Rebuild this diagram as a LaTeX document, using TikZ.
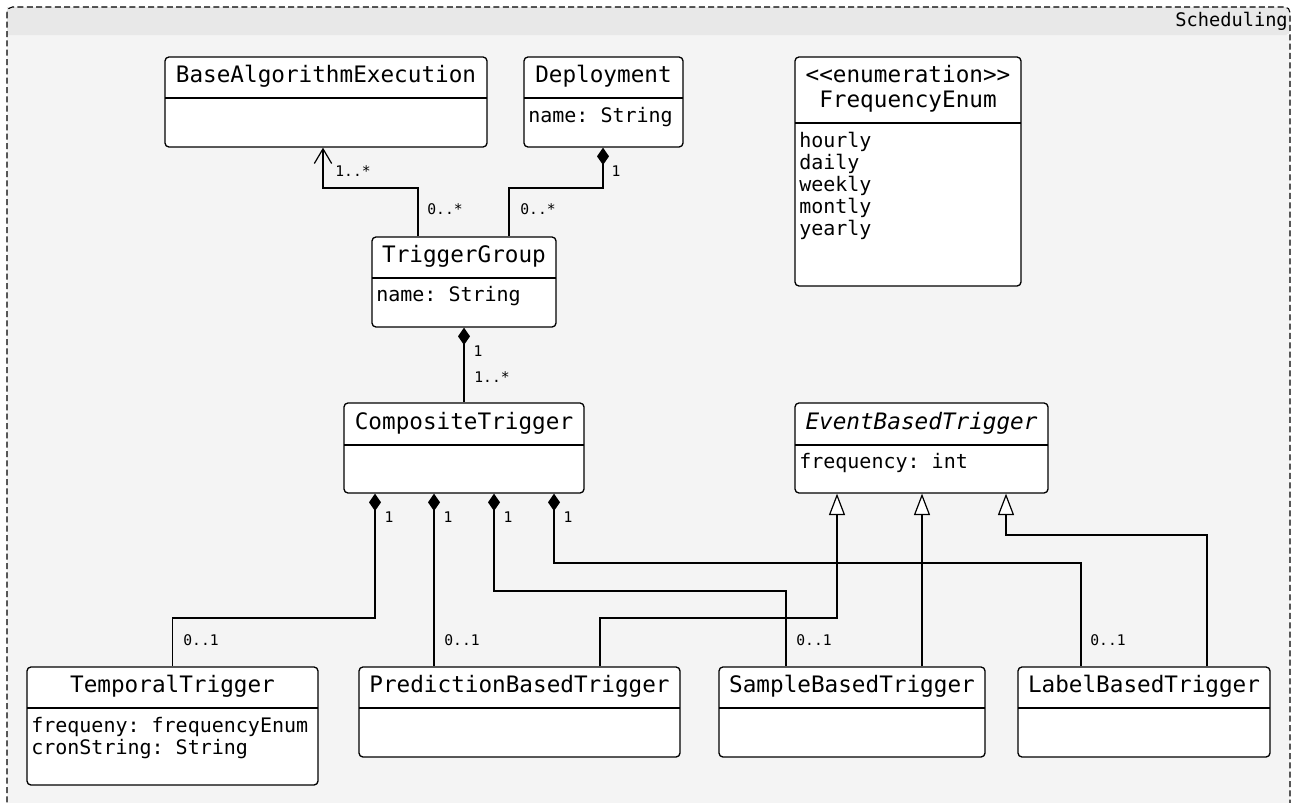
\documentclass[tikz,border=0pt]{standalone}
\usepackage{fontspec}
\setmonofont{DejaVu Sans Mono}
\usetikzlibrary{arrows.meta,fit}
\definecolor{pkghead}{HTML}{E8E8E8}
\definecolor{pkgbody}{HTML}{F4F4F4}

\tikzset{
  clsbox/.style={draw, fill=white, rounded corners=3pt, inner sep=0pt, line width=1pt},
  divider/.style={line width=1pt},
  clsname/.style={font=\ttfamily\fontsize{17}{20}\selectfont, text height=12pt, text depth=3.5pt, inner sep=0pt},
  attrs/.style={font=\ttfamily\fontsize{15}{16.5}\selectfont, anchor=west, align=left, inner sep=0pt},
  mult/.style={font=\ttfamily\fontsize{11}{13}\selectfont, inner sep=0pt, text height=8pt, text depth=2pt},
  conn/.style={line width=0.9pt},
  comp/.style={conn, {Diamond[length=13pt,width=9pt]}-},
  gen/.style={conn, -{Triangle[open,length=16pt,width=12pt,fill=white]}},
  nav/.style={conn, -{Straight Barb[length=11pt,width=13pt]}},
}

% class box: name, left, top, right, bottom, y of the compartment line
\newcommand\umlbox[6]{%
  \node[clsbox, fit={(#2,#3) (#4,#5)}] (#1) {};
  \draw[divider] (#2,#6) -- (#4,#6);
}

\begin{document}
\begin{tikzpicture}[x=0.75pt,y=-0.75pt]
  \clip (0,0) rectangle (1297,803);
  \fill[white] (0,0) rectangle (1297,803);

  % package frame
  \fill[pkgbody] (7,35) rectangle (1290,820);
  \fill[pkghead, rounded corners=3pt] (7,7) -- (1290,7) -- (1290,35) [sharp corners] -- (7,35) -- cycle;
  \draw[line width=0.8pt, dash pattern=on 4.5pt off 2.5pt, rounded corners=4pt]
    (7,7) rectangle (1290,820);
  \node[anchor=east, inner sep=0pt, font=\ttfamily\fontsize{14}{16}\selectfont] (pkgname) at (1288,21) {Scheduling};

  % classes
  \umlbox{bae}{165}{57}{487}{147}{98}
  \node[clsname] (baeT) at (326,77) {BaseAlgorithmExecution};

  \umlbox{dep}{524}{57}{683}{147}{98}
  \node[clsname] (depT) at (603.5,77) {Deployment};
  \node[attrs] (depA) at (528,117) {name: String};

  \umlbox{fe}{795}{57}{1021}{286}{123}
  \node[clsname] (feS) at (908,77) {<<enumeration>>};
  \node[clsname] (feT) at (908,102) {FrequencyEnum};
  \node[attrs, font=\ttfamily\fontsize{15}{16.5}\selectfont] (feA) at (799,186)
    {hourly\\daily\\weekly\\montly\\yearly};

  \umlbox{tg}{372}{237}{556}{327}{278}
  \node[clsname] (tgT) at (464,257) {TriggerGroup};
  \node[attrs] (tgA) at (376,296) {name: String};

  \umlbox{ct}{344}{403}{584}{493}{445}
  \node[clsname] (ctT) at (464,424) {CompositeTrigger};

  \umlbox{ebt}{795}{403}{1048}{493}{445}
  \node[clsname, font=\ttfamily\itshape\fontsize{17}{20}\selectfont] (ebtT) at (921.5,424) {EventBasedTrigger};
  \node[attrs] (ebtA) at (799,463) {frequency: int};

  \umlbox{tt}{27}{667}{318}{785}{708}
  \node[clsname] (ttT) at (172.5,687) {TemporalTrigger};
  \node[attrs] (ttA) at (31,738) {frequeny: frequencyEnum\\cronString: String};

  \umlbox{pbt}{359}{667}{680}{757}{708}
  \node[clsname] (pbtT) at (519.5,687) {PredictionBasedTrigger};

  \umlbox{sbt}{719}{667}{985}{757}{708}
  \node[clsname] (sbtT) at (852,687) {SampleBasedTrigger};

  \umlbox{lbt}{1018}{667}{1270}{757}{708}
  \node[clsname] (lbtT) at (1144,687) {LabelBasedTrigger};

  % associations
  \draw[nav] (tg.north -| 418,0) |- (323,188) -- (bae.south -| 323,0);
  \draw[comp] (dep.south -| 603,0) -- (603,188) -| (tg.north -| 509,0);
  \draw[comp] (tg.south) -- (ct.north);

  \draw[comp] (ct.south -| 375,0) -- (375,618) -| (tt.north);
  \draw[comp] (ct.south -| 434,0) -- (pbt.north -| 434,0);
  \draw[comp] (ct.south -| 494,0) -- (494,591) -| (sbt.north -| 786,0);
  \draw[comp] (ct.south -| 554,0) -- (554,563) -| (lbt.north -| 1081,0);

  % generalizations
  \draw[gen] (pbt.north -| 600,0) |- (837,618) -- (ebt.south -| 837,0);
  \draw[gen] (sbt.north -| 922,0) -- (ebt.south -| 922,0);
  \draw[gen] (lbt.north -| 1207,0) |- (1006,535) -- (ebt.south -| 1006,0);

  % multiplicities
  \node[mult] (m1) at (353,172) {1..*};
  \node[mult] (m2) at (445,210) {0..*};
  \node[mult] (m3) at (538,210) {0..*};
  \node[mult] (m4) at (616,172) {1};
  \node[mult] (m5) at (478,352) {1};
  \node[mult] (m6) at (492,378) {1..*};
  \node[mult] (m7) at (389,518) {1};
  \node[mult] (m8) at (448,518) {1};
  \node[mult] (m9) at (508,518) {1};
  \node[mult] (m10) at (568,518) {1};
  \node[mult] (m11) at (201,641) {0..1};
  \node[mult] (m12) at (462,641) {0..1};
  \node[mult] (m13) at (814,641) {0..1};
  \node[mult] (m14) at (1108,641) {0..1};
\end{tikzpicture}
\end{document}
